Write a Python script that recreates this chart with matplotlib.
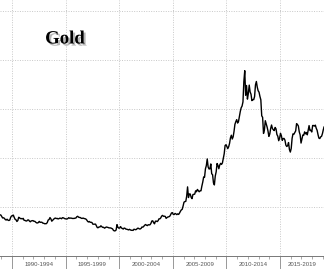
import matplotlib
matplotlib.use("Agg")
import matplotlib.pyplot as plt
import matplotlib.patheffects as pe
import matplotlib.transforms as mtransforms
import numpy as np

# Monthly gold price (USD/oz), starting Nov 1988
start_year = 1988
start_month = 11
prices_1988_1999 = [
    420, 418,
    404, 388, 390, 384, 371, 367, 375, 365, 362, 367, 394, 409,
    410, 417, 393, 374, 369, 352, 362, 395, 389, 381, 382, 378,
    384, 364, 363, 358, 357, 367, 368, 356, 349, 358, 360, 361,
    354, 354, 345, 338, 337, 341, 353, 343, 345, 344, 335, 334,
    329, 330, 330, 342, 367, 372, 392, 379, 355, 364, 373, 383,
    387, 382, 384, 378, 381, 386, 385, 380, 391, 389, 384, 379,
    379, 377, 382, 391, 385, 387, 386, 383, 383, 383, 386, 387,
    400, 405, 396, 393, 392, 385, 383, 387, 383, 381, 378, 369,
    355, 347, 352, 344, 344, 341, 324, 324, 323, 325, 306, 289,
    289, 297, 296, 308, 299, 292, 293, 284, 289, 296, 294, 291,
    287, 287, 286, 282, 277, 262, 256, 257, 265, 320, 293, 284,
]
prices_2000_2009 = [
    285, 300, 286, 280, 275, 285, 282, 274, 273, 270, 266, 272,
    266, 262, 263, 261, 273, 270, 268, 273, 283, 283, 276, 276,
    282, 296, 294, 303, 314, 321, 314, 310, 319, 317, 319, 333,
    357, 359, 340, 328, 355, 356, 351, 360, 379, 379, 389, 407,
    414, 405, 406, 404, 384, 392, 398, 400, 405, 420, 439, 442,
    424, 423, 434, 429, 422, 430, 424, 438, 456, 470, 476, 510,
    549, 555, 557, 610, 705, 596, 633, 632, 598, 585, 627, 629,
    631, 665, 655, 679, 667, 655, 665, 665, 713, 754, 806, 803,
    889, 922, 990, 909, 888, 889, 939, 839, 829, 745, 725, 816,
    858, 943, 924, 890, 928, 945, 934, 949, 996, 1043, 1127, 1135,
]
prices_2010_2019 = [
    1117, 1095, 1114, 1149, 1205, 1232, 1193, 1215, 1271, 1343, 1370, 1391,
    1356, 1372, 1424, 1474, 1512, 1529, 1572, 1780, 1890, 1640, 1739, 1600,
    1656, 1743, 1674, 1650, 1585, 1596, 1594, 1626, 1745, 1780, 1722, 1685,
    1671, 1627, 1593, 1430, 1414, 1250, 1286, 1380, 1349, 1316, 1275, 1220,
    1244, 1300, 1336, 1299, 1288, 1279, 1311, 1296, 1239, 1222, 1176, 1201,
    1251, 1227, 1179, 1198, 1199, 1181, 1131, 1117, 1125, 1157, 1086, 1060,
    1097, 1200, 1246, 1242, 1260, 1276, 1350, 1341, 1326, 1266, 1236, 1152,
    1192, 1234, 1231, 1266, 1246, 1260, 1236, 1283, 1330, 1280, 1282, 1265,
    1331, 1331, 1325, 1335, 1303, 1282, 1238, 1202, 1198, 1215, 1221, 1250,
    1291, 1320, 1300,
]
period_labels = ["1990-1994", "1995-1999", "2000-2004", "2005-2009",
                 "2010-2014", "2015-2019"]
period_starts = [1990, 1995, 2000, 2005, 2010, 2015]
title_text = "Gold"

prices = prices_1988_1999 + prices_2000_2009 + prices_2010_2019
t = start_year + (start_month - 1) / 12 + np.arange(len(prices)) / 12 + 0.5 / 12

W, H = 324, 269
fig = plt.figure(figsize=(W / 100, H / 100), dpi=100)
ax_bottom = 256
ax = fig.add_axes([0, (H - ax_bottom) / H, 1, ax_bottom / H])
ax.set_xlim(1988.88, 2019.1)
ax.set_ylim(0, 2611)

ax.plot(t, prices, color="black", lw=1.0, zorder=3)

# grid
for yv in [500, 1000, 1500, 2000, 2500]:
    ax.axhline(yv, color="#c8c8c8", lw=0.7, ls=(0, (1, 1.5)), zorder=1)
for xv in period_starts:
    ax.axvline(xv, color="#c8c8c8", lw=0.7, ls=(0, (1, 1.5)), zorder=1)

for s in ["top", "left", "right"]:
    ax.spines[s].set_visible(False)
ax.spines["bottom"].set_color("#777777")
ax.spines["bottom"].set_linewidth(0.7)
ax.set_yticks([])

ax.set_xticks(period_starts)
ax.set_xticklabels([])
ax.tick_params(axis="x", which="major", length=13, width=0.6, color="#888888", direction="out")
ax.set_xticks(np.arange(1989, 2020), minor=True)
ax.tick_params(axis="x", which="minor", length=2.5, width=0.5, color="#888888", direction="out")

trans = mtransforms.blended_transform_factory(ax.transData, fig.transFigure)
xmax = ax.get_xlim()[1]
for lab, s in zip(period_labels, period_starts):
    mid = (s + min(s + 5, xmax)) / 2
    ax.text(mid, 1 - 264.5 / H, lab, transform=trans, clip_on=False,
            ha="center", va="center", fontsize=4.3, color="#555555",
            family="Liberation Sans")

fig.text(65 / W, 1 - 39 / H, title_text, ha="center", va="center",
         fontsize=13.5, fontweight="bold", family="Liberation Serif",
         color="black",
         path_effects=[pe.SimplePatchShadow(offset=(1.5, -1.5), shadow_rgbFace="#888888", alpha=0.6),
                       pe.Normal()])

fig.savefig("out.png", dpi=100)
